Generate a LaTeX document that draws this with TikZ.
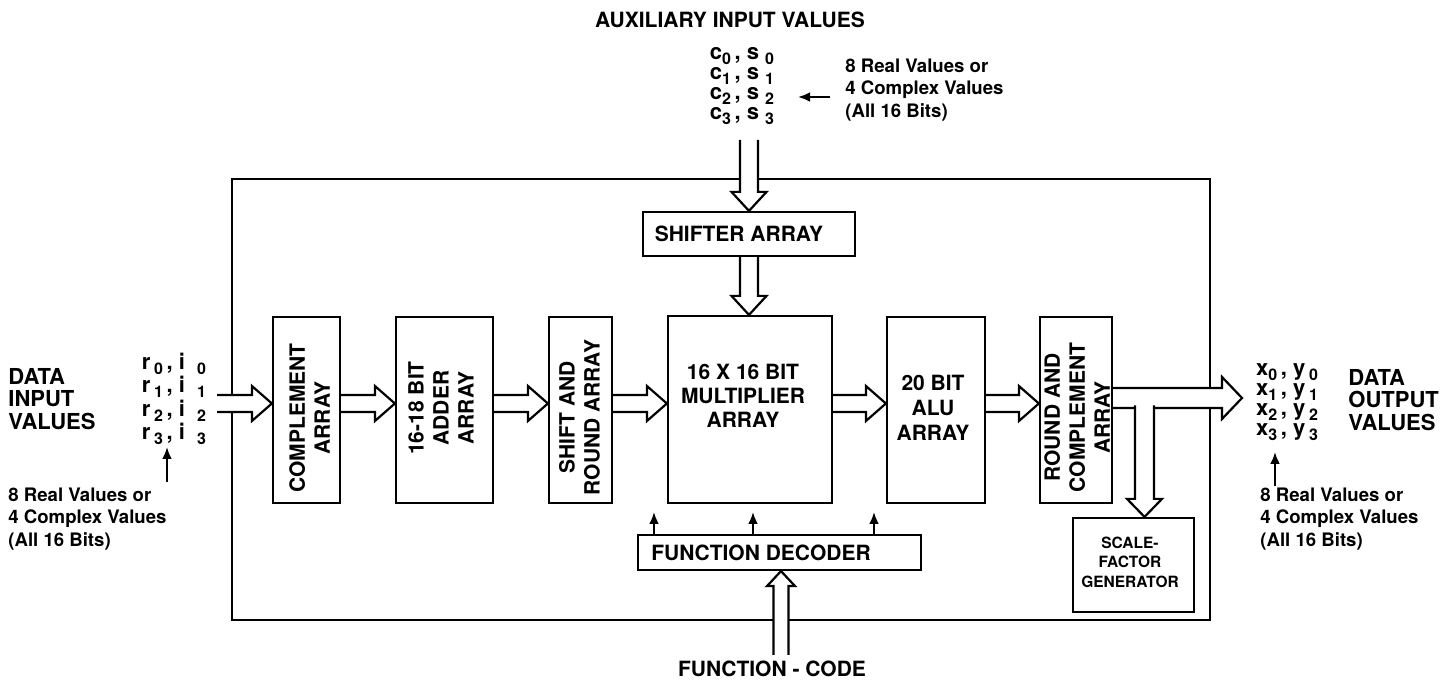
\documentclass[tikz,border=0pt]{standalone}
\usepackage{fontspec}
\setmainfont{TeX Gyre Heros}
\usetikzlibrary{calc,arrows.meta}
\pgfdeclarelayer{bg}
\pgfsetlayers{bg,main}
\newcommand\low[1]{\raisebox{-2.5pt}{\fontsize{8}{8}\selectfont #1}}
% #1 tail, #2 tip, #3 half shaft, #4 half head, #5 head length
\newcommand\fatarrow[5]{%
  \coordinate (fa-b) at ($(#2)!#5!(#1)$);
  \coordinate (fa-t1) at ($(#1)!#3!90:(#2)$);
  \coordinate (fa-t2) at ($(#1)!#3!-90:(#2)$);
  \coordinate (fa-s1) at ($(fa-b)!#3!90:(#2)$);
  \coordinate (fa-s2) at ($(fa-b)!#3!-90:(#2)$);
  \coordinate (fa-h1) at ($(fa-b)!#4!90:(#2)$);
  \coordinate (fa-h2) at ($(fa-b)!#4!-90:(#2)$);
  \fill[white] (fa-t1) -- (fa-s1) -- (fa-h1) -- (#2) -- (fa-h2) -- (fa-s2) -- (fa-t2) -- cycle;
  \draw[fatline] (fa-t1) -- (fa-s1) -- (fa-h1) -- (#2) -- (fa-h2) -- (fa-s2) -- (fa-t2);
}
\begin{document}
\begin{tikzpicture}[x=0.5pt,y=-0.5pt,
  blk/.style={draw,line width=1.1pt,inner sep=0pt},
  lbl/.style={font=\bfseries\fontsize{10.5}{12.5}\selectfont,inner sep=0pt,align=center},
  big/.style={font=\bfseries\fontsize{11}{11.25}\selectfont,inner sep=0pt,align=left},
  note/.style={font=\bfseries\fontsize{9.3}{11.25}\selectfont,inner sep=0pt,align=left},
  tinyl/.style={font=\bfseries\fontsize{7.75}{9.75}\selectfont,inner sep=0pt,align=center},
  vals/.style={font=\bfseries\fontsize{11}{10}\selectfont,inner sep=0pt,align=left},
  fatline/.style={line width=1.1pt,line join=miter},
  thinarrow/.style={line width=1.2pt,-{Latex[length=6pt,width=5pt]}}]
\useasboundingbox (0,0) rectangle (1451,683);

% blocks
\node[blk,minimum width=33.5pt,minimum height=93pt] (comp) at (306.5,410) {};
\node[blk,minimum width=48.5pt,minimum height=93pt] (adder) at (444.5,410) {};
\node[blk,minimum width=31.5pt,minimum height=93pt] (shift) at (580.5,410) {};
\node[blk,minimum width=82pt,minimum height=93.5pt] (mult) at (750,409.5) {};
\node[blk,minimum width=49pt,minimum height=93pt] (alu) at (936,410) {};
\node[blk,minimum width=36pt,minimum height=93pt] (rnd) at (1076,410) {};
\node[blk,minimum width=106pt,minimum height=22pt] (shifter) at (749,234) {};
\node[blk,minimum width=141.5pt,minimum height=17.5pt] (dec) at (779.5,552.5) {};
\node[blk,minimum width=60.5pt,minimum height=47pt] (scale) at (1133.5,565) {};

% block texts
\node[lbl,rotate=90] (compT) at (309.5,418) {COMPLEMENT\\ARRAY};
\node[lbl,rotate=90] (adderT) at (441,408) {16-18 BIT\\ADDER\\ARRAY};
\node[lbl,rotate=90] (shiftT) at (579.5,417.5) {SHIFT AND\\ROUND ARRAY};
\node[lbl,font=\bfseries\fontsize{10.5}{12}\selectfont] (multT) at (743,396) {16 X 16 BIT\\MULTIPLIER\\ARRAY};
\node[lbl] (aluT) at (933,408) {20 BIT\\ALU\\ARRAY};
\node[lbl,rotate=90] (rndT) at (1077,417.5) {ROUND AND\\COMPLEMENT\\ARRAY};
\node[lbl] (shifterT) at (739,234) {SHIFTER ARRAY};
\node[lbl] (decT) at (761,553) {FUNCTION DECODER};
\node[tinyl] (scaleT) at (1130,562) {SCALE-\\FACTOR\\GENERATOR};

% outside labels
\node[lbl] (auxT) at (730,20) {AUXILIARY INPUT VALUES};
\node[lbl] (fcT) at (772,669) {FUNCTION - CODE};
\node[big,anchor=west] (dinT) at (8,399) {DATA\\INPUT\\VALUES};
\node[big,anchor=west] (doutT) at (1348,400) {DATA\\OUTPUT\\VALUES};
\node[note,anchor=west] (auxN) at (845,90) {8 Real Values or\\4 Complex Values\\(All 16 Bits)};
\node[note,anchor=west] (inN) at (8,519) {8 Real Values or\\4 Complex Values\\(All 16 Bits)};
\node[note,anchor=west] (outN) at (1260,519) {8 Real Values or\\4 Complex Values\\(All 16 Bits)};

\node[vals] (cV) at (742,86) {c\low{0}\,, s\ \low{0}\\c\low{1}\,, s\ \low{1}\\c\low{2}\,, s\ \low{2}\\c\low{3}\,, s\ \low{3}};
\node[vals] (rV) at (174,399) {r\,\low{0}\,, i\ \ \low{0}\\r\,\low{1}\,, i\ \ \low{1}\\r\,\low{2}\,, i\ \ \low{2}\\r\,\low{3}\,, i\ \ \low{3}};
\node[vals] (xV) at (1287,402) {x\low{0}\,, y\,\low{0}\\x\low{1}\,, y\,\low{1}\\x\low{2}\,, y\,\low{2}\\x\low{3}\,, y\,\low{3}};

% coordinates
\coordinate (ay) at (0,403.5);
\coordinate (ay2) at (0,398);
\coordinate (intail) at (217,403.5);
\coordinate (outtip) at (1242,398);
\coordinate (auxtail) at (749,140);
\coordinate (fctail) at (781,655);
\coordinate (sftail) at (1144.5,405.5);

\begin{pgfonlayer}{bg}
\node[blk,minimum width=489pt,minimum height=220.5pt] (chip) at (721,399.5) {};
\fatarrow{intail}{comp.west |- ay}{4.25pt}{8.75pt}{10pt}
\fatarrow{comp.east |- ay}{adder.west |- ay}{4.25pt}{8.75pt}{10pt}
\fatarrow{adder.east |- ay}{shift.west |- ay}{4.25pt}{8.75pt}{10pt}
\fatarrow{shift.east |- ay}{mult.west |- ay}{4.25pt}{8.75pt}{10pt}
\fatarrow{mult.east |- ay}{alu.west |- ay}{4.25pt}{8.75pt}{10pt}
\fatarrow{alu.east |- ay}{rnd.west |- ay}{4.25pt}{8.75pt}{10pt}
\fatarrow{rnd.east |- ay2}{outtip}{5pt}{10.5pt}{10pt}
\fatarrow{sftail}{sftail |- scale.north}{4.75pt}{8.75pt}{9pt}
\fatarrow{auxtail}{shifter.north}{4.5pt}{8.75pt}{9.5pt}
\fatarrow{shifter.south}{shifter.south |- mult.north}{4.5pt}{8.75pt}{9.5pt}
\fatarrow{fctail}{fctail |- dec.south}{3.75pt}{7pt}{7.5pt}
\end{pgfonlayer}

% small control arrows
\coordinate (k1) at (654,512);
\coordinate (k2) at (753,512);
\coordinate (k3) at (874,512);
\draw[thinarrow] (k1 |- dec.north) -- (k1);
\draw[thinarrow] (k2 |- dec.north) -- (k2);
\draw[thinarrow] (k3 |- dec.north) -- (k3);

% annotation arrows
\coordinate (a1s) at (830,97);
\coordinate (a1e) at (798,97);
\draw[thinarrow] (a1s) -- (a1e);
\coordinate (a2s) at (167,482);
\coordinate (a2e) at (167,447);
\draw[thinarrow] (a2s) -- (a2e);
\coordinate (a3s) at (1275,486);
\coordinate (a3e) at (1275,452);
\draw[thinarrow] (a3s) -- (a3e);
\end{tikzpicture}
\end{document}
